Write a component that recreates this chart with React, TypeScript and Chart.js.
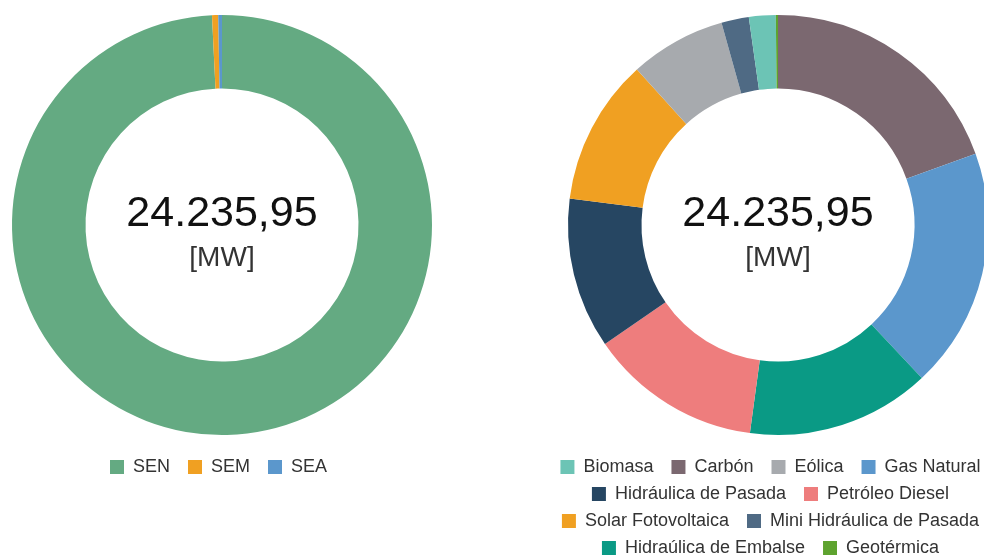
import React, { useEffect, useRef } from "react";
import { Chart, registerables } from "chart.js";

Chart.register(...registerables);

const FONT = "'Liberation Sans', Arial, Helvetica, sans-serif";

const TOTAL_LABEL = "24.235,95";
const UNIT_LABEL = "[MW]";

// Left chart: capacity by electric system
const systemLabels = ["SEN", "SEM", "SEA"];
const systemValues = [24052.0, 114.0, 69.95];
const systemColors = ["#64AA82", "#F0A022", "#5B97CC"];

// Right chart: capacity by technology (drawing order, clockwise from top)
const techLabels = [
  "Carbón",
  "Gas Natural",
  "Hidraúlica de Embalse",
  "Petróleo Diesel",
  "Hidráulica de Pasada",
  "Solar Fotovoltaica",
  "Eólica",
  "Mini Hidráulica de Pasada",
  "Biomasa",
  "Geotérmica",
];
const techValues = [4725, 4484, 3427, 3218, 2814, 2727, 1791, 512, 499, 40];
const techColors = [
  "#7B6870",
  "#5B97CC",
  "#0A9A85",
  "#EE7D7D",
  "#264662",
  "#F0A022",
  "#A7AAAE",
  "#4F6A84",
  "#6CC4B5",
  "#5EA32F",
];
const techLegendOrder = [
  "Biomasa",
  "Carbón",
  "Eólica",
  "Gas Natural",
  "Hidráulica de Pasada",
  "Petróleo Diesel",
  "Solar Fotovoltaica",
  "Mini Hidráulica de Pasada",
  "Hidraúlica de Embalse",
  "Geotérmica",
];

const centerTextPlugin = {
  id: "centerText",
  afterDatasetsDraw(chart: any) {
    const arc = chart.getDatasetMeta(0).data[0];
    if (!arc) return;
    const x = arc.x;
    const y = arc.y;
    const ctx = chart.ctx;
    ctx.save();
    ctx.textAlign = "center";
    ctx.textBaseline = "alphabetic";
    ctx.fillStyle = "#111111";
    ctx.font = `43px ${FONT}`;
    ctx.fillText(TOTAL_LABEL, x, y + 0.5);
    ctx.fillStyle = "#333333";
    ctx.font = `28px ${FONT}`;
    ctx.fillText(UNIT_LABEL, x, y + 41);
    ctx.restore();
  },
};

function makeLegendShift(dx: number) {
  return {
    id: "legendShift",
    afterLayout(chart: any) {
      if (chart.legend && dx) {
        chart.legend.left += dx;
        chart.legend.right += dx;
      }
    },
  };
}

function makeConfig(
  labels: string[],
  values: number[],
  colors: string[],
  legendOrder: string[] | undefined,
  legendDx: number
) {
  const baseGen = (Chart as any).overrides.doughnut.plugins.legend.labels.generateLabels;
  return {
    type: "doughnut" as const,
    data: {
      labels,
      datasets: [
        {
          data: values,
          backgroundColor: colors,
          borderWidth: 0,
          radius: 210,
          cutout: "65%",
        },
      ],
    },
    options: {
      responsive: false,
      animation: false as const,
      devicePixelRatio: 1,
      events: [],
      layout: { padding: { top: 1, left: 0, right: 0, bottom: 0 } },
      plugins: {
        tooltip: { enabled: false },
        legend: {
          position: "bottom" as const,
          labels: {
            boxWidth: 14,
            boxHeight: 14,
            padding: 9,
            color: "#333333",
            font: { family: FONT, size: 18 },
            generateLabels: (chart: any) => {
              const items = baseGen(chart);
              items.forEach((it: any) => {
                it.text = it.text + "\u2002";
                it.lineWidth = 0;
              });
              if (legendOrder) {
                items.sort(
                  (a: any, b: any) =>
                    legendOrder.indexOf(labels[a.index]) - legendOrder.indexOf(labels[b.index])
                );
              }
              return items;
            },
          },
        },
      },
    },
    plugins: [centerTextPlugin, makeLegendShift(legendDx)],
  };
}

function DonutCanvas(props: {
  labels: string[];
  values: number[];
  colors: string[];
  legendOrder?: string[];
  legendDx: number;
  left: number;
  width: number;
  height: number;
}) {
  const ref = useRef<HTMLCanvasElement | null>(null);
  useEffect(() => {
    if (!ref.current) return;
    const chart = new Chart(
      ref.current,
      makeConfig(props.labels, props.values, props.colors, props.legendOrder, props.legendDx) as any
    );
    return () => chart.destroy();
  }, []);
  return (
    <canvas
      ref={ref}
      width={props.width}
      height={props.height}
      style={{
        position: "absolute",
        left: props.left,
        top: 0,
        width: props.width,
        height: props.height,
        display: "block",
      }}
    />
  );
}

export default function App() {
  return (
    <div
      style={{
        position: "fixed",
        left: 0,
        top: 0,
        width: 984,
        height: 555,
        overflow: "hidden",
        background: "#ffffff",
      }}
    >
      <DonutCanvas
        labels={systemLabels}
        values={systemValues}
        colors={systemColors}
        legendDx={1}
        left={2}
        width={440}
        height={486}
      />
      <DonutCanvas
        labels={techLabels}
        values={techValues}
        colors={techColors}
        legendOrder={techLegendOrder}
        legendDx={-3}
        left={528}
        width={500}
        height={567}
      />
    </div>
  );
}
